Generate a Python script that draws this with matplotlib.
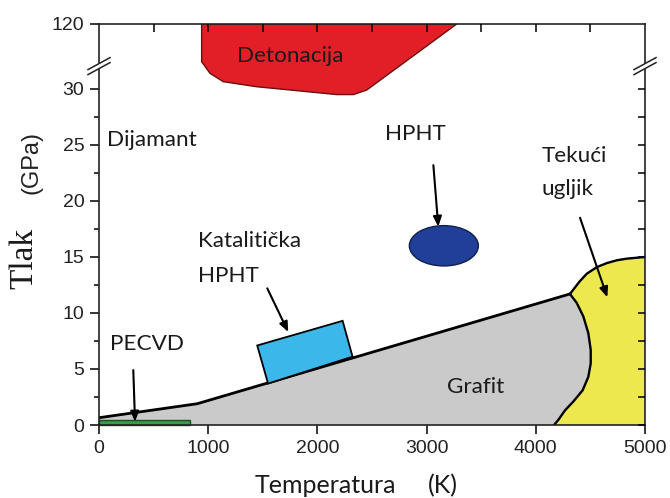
"""
Fazni dijagram ugljika (Tlak vs Temperatura) s podrucjima sinteze dijamanta.
Os y je prekinuta iznad 30 GPa (vrh = 120 GPa).
"""

# ------------------------
# 1) Imports
# ------------------------
import numpy as np
import matplotlib
matplotlib.use("Agg")
import matplotlib.pyplot as plt
from matplotlib.patches import Polygon, Ellipse, Rectangle


# ------------------------
# 2) Data (K, GPa)
# ------------------------
# graphite / diamond boundary
boundary_T = [0, 900, 4313]
boundary_P = [0.65, 1.9, 11.7]

# graphite / liquid (melting) curve, from triple point down to 0 GPa
melt_T = [4313, 4375, 4435, 4481, 4503, 4503, 4481, 4429, 4344, 4267, 4206, 4167]
melt_P = [11.7, 10.9, 9.7, 8.2, 6.7, 5.5, 4.3, 3.1, 2.1, 1.3, 0.45, 0.0]

# diamond / liquid curve, from triple point to the right edge
liquid_T = [4313, 4400, 4466, 4560, 4649, 4740, 4832, 5000]
liquid_P = [11.7, 12.8, 13.5, 14.1, 14.45, 14.7, 14.85, 15.0]

# detonation region (upper part lives in the broken 30-120 GPa band)
deton_T = [940, 940, 1016, 1138, 1444, 2177, 2329, 2451, 3276]
deton_P = [120, 67.7, 51.7, 40.1, 33.1, 29.5, 29.5, 29.9, 120]

# catalytic HPHT box (corners)
kat_T = [1449, 2231, 2322, 1548]
kat_P = [7.1, 9.3, 6.1, 3.7]

# HPHT ellipse: centre, width, height
hpht_center = (3158, 16.0)
hpht_size = (632, 3.6)

# PECVD strip
pecvd_T = [0, 833]
pecvd_P = [0, 0.45]

x_ticks = [0, 1000, 2000, 3000, 4000, 5000]
y_ticks = [0, 5, 10, 15, 20, 25, 30, 120]
y_ticklabels = ["0", "5", "10", "15", "20", "25", "30", "120"]


# ------------------------
# 3) Broken y scale: linear to 30, compressed 30 -> 120
# ------------------------
k = 5.8 / 90.0

def fwd(y):
    y = np.asarray(y, dtype=float)
    return np.where(y <= 30, y, 30 + (y - 30) * k)

def inv(d):
    d = np.asarray(d, dtype=float)
    return np.where(d <= 30, d, 30 + (d - 30) / k)


# ------------------------
# 4) Figure
# ------------------------
fig = plt.figure(figsize=(6.7, 4.98), dpi=100)
ax = fig.add_axes([99 / 670, 1 - 425 / 498, 546 / 670, 401 / 498])
ax.set_yscale("function", functions=(fwd, inv))
ax.set_xlim(0, 5000)
ax.set_ylim(0, 120)

label_font = "Lato"
tick_font = "Liberation Sans"
txt_col = "#1a1a1a"

# grey graphite area
grey_pts = list(zip(boundary_T, boundary_P)) + list(zip(melt_T[1:], melt_P[1:])) + [(0, 0)]
ax.add_patch(Polygon(grey_pts, closed=True, facecolor="#cacaca", edgecolor="none", zorder=1))

# yellow liquid area
yellow_pts = list(zip(liquid_T, liquid_P)) + [(5000, 0)] + list(zip(melt_T[::-1], melt_P[::-1]))
ax.add_patch(Polygon(yellow_pts, closed=True, facecolor="#eee84f", edgecolor="none", zorder=1))

# boundary lines
ax.plot(boundary_T, boundary_P, color="black", lw=2.0, zorder=3)
ax.plot(melt_T, melt_P, color="black", lw=1.7, zorder=3)
ax.plot(liquid_T, liquid_P, color="black", lw=1.7, zorder=3)

# detonation
ax.add_patch(Polygon(list(zip(deton_T, deton_P)), closed=True, facecolor="#e21f26",
                     edgecolor="#6a1010", lw=1.0, zorder=2))

# catalytic HPHT box
ax.add_patch(Polygon(list(zip(kat_T, kat_P)), closed=True, facecolor="#3bb7ea",
                     edgecolor="black", lw=1.3, zorder=4))

# HPHT ellipse
ax.add_patch(Ellipse(hpht_center, hpht_size[0], hpht_size[1], facecolor="#1f3f98",
                     edgecolor="#10204a", lw=1.0, zorder=4))

# PECVD strip
ax.add_patch(Rectangle((pecvd_T[0], pecvd_P[0]), pecvd_T[1] - pecvd_T[0], pecvd_P[1] - pecvd_P[0],
                       facecolor="#3a9c45", edgecolor="#1d4d22", lw=1.0, zorder=4, clip_on=False))


# ------------------------
# 5) Arrows + labels
# ------------------------
arrow_kw = dict(arrowstyle="-|>,head_length=0.6,head_width=0.25", color="black", lw=1.5,
                shrinkA=0, shrinkB=0)
ax.annotate("", xy=(330, 0.3), xytext=(314, 4.9), arrowprops=arrow_kw, zorder=5)
ax.annotate("", xy=(1733, 8.3), xytext=(1541, 12.2), arrowprops=arrow_kw, zorder=5)
ax.annotate("", xy=(3107, 17.7), xytext=(3062, 23.2), arrowprops=arrow_kw, zorder=5)
ax.annotate("", xy=(4655, 11.4), xytext=(4405, 18.5), arrowprops=arrow_kw, zorder=5)

fs = 16.2
ax.text(73, 24.9, "Dijamant", fontsize=fs, family=label_font, color=txt_col, va="baseline")
ax.text(1261, 67.9, "Detonacija", fontsize=fs, family=label_font, color=txt_col, va="baseline", zorder=6)
ax.text(2619, 25.4, "HPHT", fontsize=fs, family=label_font, color=txt_col, va="baseline")
ax.text(4054, 23.5, "Tekući", fontsize=fs, family=label_font, color=txt_col, va="baseline")
ax.text(4054, 20.5, "ugljik", fontsize=fs, family=label_font, color=txt_col, va="baseline")
ax.text(907, 15.9, "Katalitička", fontsize=fs, family=label_font, color=txt_col, va="baseline")
ax.text(907, 12.8, "HPHT", fontsize=fs, family=label_font, color=txt_col, va="baseline")
ax.text(101, 6.7, "PECVD", fontsize=fs, family=label_font, color=txt_col, va="baseline")
ax.text(3184, 2.83, "Grafit", fontsize=fs, family=label_font, color=txt_col, va="baseline", zorder=6)


# ------------------------
# 6) Ticks, spines, axis labels
# ------------------------
ax.set_xticks(x_ticks)
ax.set_xticks(np.arange(500, 5000, 1000), minor=True)
ax.set_yticks(y_ticks)
ax.set_yticklabels(y_ticklabels)
ax.set_yticks(np.arange(2.5, 30, 5), minor=True)
ax.tick_params(which="major", direction="out", length=6.5, width=1.1, labelsize=14, pad=4)
ax.tick_params(which="minor", direction="out", length=3.5, width=1.1)
ax.tick_params(top=False, right=False)
for lab in ax.get_xticklabels() + ax.get_yticklabels():
    lab.set_family(tick_font)
    lab.set_color("#222222")
for s in ax.spines.values():
    s.set_linewidth(1.2)
    s.set_color("#222222")
    s.set_zorder(7)

# right spine ticks (inward, every 2.5 GPa)
ax_r = ax.twinx()
ax_r.set_yscale("function", functions=(fwd, inv))
ax_r.set_ylim(0, 120)
ax_r.set_yticks(np.arange(0, 30.1, 2.5))
ax_r.tick_params(direction="in", length=5, width=1.1, labelright=False)
ax_r.minorticks_off()

# top spine ticks (inward, every 500 K)
ax_t = ax.twiny()
ax_t.set_xlim(0, 5000)
ax_t.set_xticks(np.arange(500, 5000, 500))
ax_t.tick_params(direction="in", length=5.5, width=1.1, labeltop=False)
for a in (ax_r, ax_t):
    for s in a.spines.values():
        s.set_visible(False)

# axis break marks at both sides
yb = 0.895
dx, dy, gap = 11 / 546, 6 / 401, 2.5 / 401
for xb in (0.0, 1.0):
    ax.add_patch(Polygon([(xb - dx, yb - dy - gap), (xb + dx, yb + dy - gap),
                          (xb + dx, yb + dy + gap), (xb - dx, yb - dy + gap)],
                         closed=True, transform=ax.transAxes, facecolor="white",
                         edgecolor="none", clip_on=False, zorder=8))
    for off in (-gap, gap):
        ax.plot([xb - dx, xb + dx], [yb - dy + off, yb + dy + off], color="#222222", lw=1.1,
                transform=ax.transAxes, clip_on=False, zorder=9)

# axis titles
fig.text(255 / 670, 1 - 493 / 498, "Temperatura", fontsize=18, family=label_font,
         color=txt_col, va="baseline")
fig.text(428 / 670, 1 - 493 / 498, "(K)", fontsize=18, family=label_font,
         color=txt_col, va="baseline")
fig.text(24 / 670, 1 - 258 / 498, "Tlak", fontsize=24, family="Liberation Serif",
         color=txt_col, rotation=90, ha="center", va="center")
fig.text(32 / 670, 1 - 162 / 498, "(GPa)", fontsize=17, family=tick_font,
         color="#222222", rotation=90, ha="center", va="center")

fig.savefig("out.png", dpi=100)
